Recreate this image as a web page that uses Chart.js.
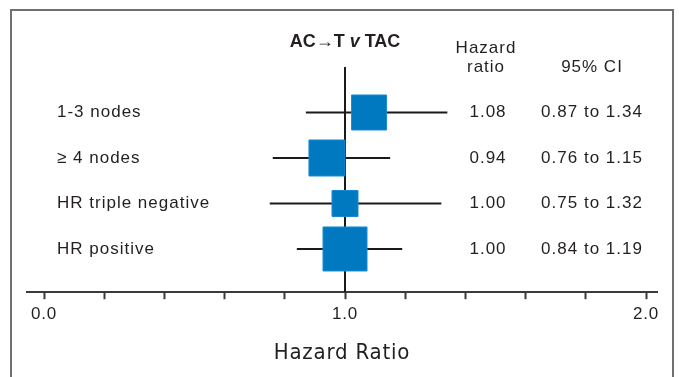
<!DOCTYPE html>
<html>
<head>
<meta charset="utf-8">
<script src="https://cdn.jsdelivr.net/npm/chart.js@4.4.1/dist/chart.umd.min.js"></script>
<style>
  html, body { margin: 0; padding: 0; background: #fff; }
  #wrap { position: relative; width: 679px; height: 377px; }
</style>
</head>
<body>
<div id="wrap"><canvas id="forest"></canvas></div>
<script>
// Subgroups and their hazard ratios
var groups = ['1-3 nodes', '\u2265 4 nodes', 'HR triple negative', 'HR positive'];
var hazard = [1.08, 0.94, 1.00, 1.00];
var ciLow = [0.87, 0.76, 0.75, 0.84];
var ciHigh = [1.34, 1.15, 1.32, 1.19];
var hrText = ['1.08', '0.94', '1.00', '1.00'];
var ciText = ['0.87 to 1.34', '0.76 to 1.15', '0.75 to 1.32', '0.84 to 1.19'];
var boxSide = [35, 36, 26, 44]; // square size (weight)
var xTicks = [0, 0.2, 0.4, 0.6, 0.8, 1.0, 1.2, 1.4, 1.6, 1.8, 2.0];

var ink = '#231f20';
var textFont = '17px "Liberation Sans", Arial, sans-serif';

var datasets = [];

// point estimates (first dataset is drawn on top)
datasets.push({
    data: hazard.map(function(v, i) { return {x: v, y: i + 1}; }),
    pointStyle: 'rect',
    pointRadius: boxSide.map(function(s) { return s / Math.SQRT2; }),
    backgroundColor: '#0079c1',
    borderColor: '#1a8ad0',
    borderWidth: 1
});

// reference line at HR = 1
datasets.push({
    data: [{x: 1, y: 0}, {x: 1, y: 4.95}],
    showLine: true,
    borderColor: '#1a1a1a',
    borderWidth: 2,
    pointRadius: 0
});

// confidence intervals
groups.forEach(function(g, i) {
    datasets.push({
        data: [{x: ciLow[i], y: i + 1}, {x: ciHigh[i], y: i + 1}],
        showLine: true,
        borderColor: '#1a1a1a',
        borderWidth: 2,
        pointRadius: 0
    });
});

// frame + text columns
var forestText = {
    id: 'forestText',
    beforeDraw: function(chart) {
        var ctx = chart.ctx;
        ctx.save();
        ctx.fillStyle = '#fff';
        ctx.fillRect(0, 0, chart.width, chart.height);
        ctx.strokeStyle = '#707070';
        ctx.lineWidth = 2;
        ctx.beginPath();
        ctx.moveTo(11, chart.height);
        ctx.lineTo(11, 10);
        ctx.lineTo(673, 10);
        ctx.lineTo(673, chart.height);
        ctx.stroke();
        ctx.restore();
        ctx.letterSpacing = '0.8px';
    },
    afterDraw: function(chart) {
        var ctx = chart.ctx;
        var y = chart.scales.y;
        var top = chart.chartArea.top;
        ctx.save();
        ctx.fillStyle = ink;
        ctx.textBaseline = 'middle';
        ctx.font = textFont;
        ctx.letterSpacing = '1px';

        groups.forEach(function(g, i) {
            var py = y.getPixelForValue(i + 1);
            ctx.textAlign = 'left';
            ctx.fillText(g, 57, py);
            ctx.textAlign = 'center';
            ctx.fillText(hrText[i], 488, py);
            ctx.fillText(ciText[i], 592, py);
        });

        ctx.textAlign = 'center';
        ctx.fillText('Hazard', 486, top - 19);
        ctx.fillText('ratio', 486, top);
        ctx.fillText('95% CI', 592, top);

        // panel title: AC→T v TAC
        ctx.letterSpacing = '0px';
        var partA = 'AC\u2192T ';
        var partB = 'v';
        var partC = ' TAC';
        var fb = 'bold 18px "Liberation Sans", Arial, sans-serif';
        var fi = 'italic bold 18px "Liberation Sans", Arial, sans-serif';
        ctx.font = fb;
        var wA = ctx.measureText(partA).width;
        var wC = ctx.measureText(partC).width;
        ctx.font = fi;
        var wB = ctx.measureText(partB).width;
        var x0 = 345 - (wA + wB + wC) / 2;
        var ty = top - 25;
        ctx.textAlign = 'left';
        ctx.font = fb;
        ctx.fillText(partA, x0, ty);
        ctx.font = fi;
        ctx.fillText(partB, x0 + wA, ty);
        ctx.font = fb;
        ctx.fillText(partC, x0 + wA + wB, ty);
        ctx.restore();
    }
};

new Chart(document.getElementById('forest'), {
    type: 'scatter',
    data: {datasets: datasets},
    options: {
        responsive: true,
        maintainAspectRatio: false,
        animation: false,
        events: [],
        layout: {autoPadding: false, padding: {left: 27, right: 22, top: 67, bottom: 11}},
        plugins: {legend: {display: false}, tooltip: {enabled: false}},
        scales: {
            y: {
                display: false,
                reverse: true,
                min: 0,
                max: 4.95
            },
            x: {
                min: -0.0565,
                max: 2.0365,
                afterBuildTicks: function(scale) {
                    scale.ticks = xTicks.map(function(v) { return {value: v}; });
                },
                afterFit: function(scale) {
                    scale.paddingLeft = 0;
                    scale.paddingRight = 0;
                },
                grid: {
                    drawOnChartArea: false,
                    drawTicks: true,
                    tickLength: 7,
                    tickWidth: 2,
                    tickColor: '#3a3a3a'
                },
                border: {color: '#3a3a3a', width: 2},
                ticks: {
                    autoSkip: false,
                    maxRotation: 0,
                    padding: 5,
                    color: ink,
                    font: {family: '"Liberation Sans", Arial, sans-serif', size: 17},
                    callback: function(v) { return (v % 1 === 0) ? v.toFixed(1) : ''; }
                },
                title: {
                    display: true,
                    text: 'Hazard Ratio',
                    color: ink,
                    font: {family: '"Liberation Sans Narrow", "DejaVu Sans Condensed", Arial, sans-serif', size: 22},
                    padding: {top: 10, bottom: 0}
                }
            }
        }
    },
    plugins: [forestText]
});
</script>
</body>
</html>
